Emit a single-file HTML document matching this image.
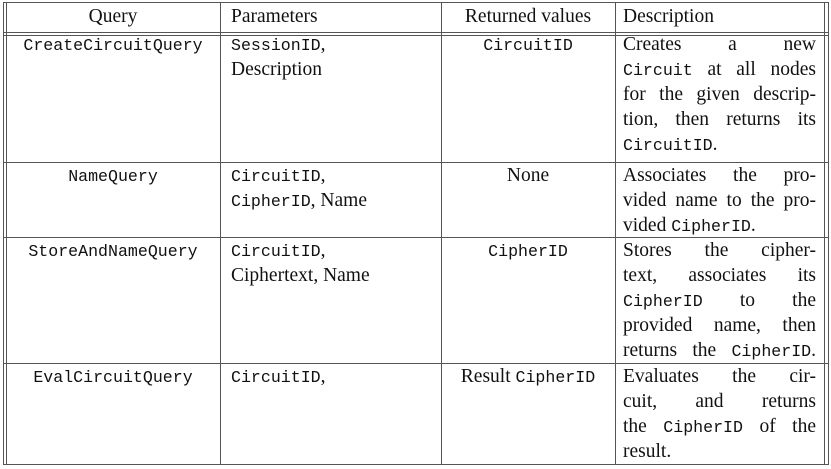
<!DOCTYPE html>
<html><head><meta charset="utf-8"><style>
body{margin:0;width:831px;height:469px;background:#fff;position:relative;overflow:hidden;font-family:"Liberation Serif",serif;font-size:19.5px;color:#111}
.h,.v{position:absolute;background:#555}
.h{height:1px}.v{width:1px}
.t{position:absolute;height:25px;line-height:25px;white-space:nowrap}
.c{text-align:center}
.j{text-align:justify;text-align-last:justify;white-space:normal}
tt{font-family:"Liberation Mono",monospace;font-size:16.6px}
</style></head><body>
<div class="v" style="left:3px;top:2px;height:462px"></div>
<div class="v" style="left:6px;top:2px;height:462px"></div>
<div class="v" style="left:220px;top:2px;height:462px"></div>
<div class="v" style="left:441px;top:2px;height:462px"></div>
<div class="v" style="left:615px;top:2px;height:462px"></div>
<div class="v" style="left:824px;top:2px;height:462px"></div>
<div class="v" style="left:828px;top:2px;height:462px"></div>
<div class="h" style="left:3px;top:2px;width:826px"></div>
<div class="h" style="left:3px;top:32px;width:826px"></div>
<div class="h" style="left:3px;top:35px;width:826px"></div>
<div class="h" style="left:3px;top:162px;width:826px"></div>
<div class="h" style="left:3px;top:237px;width:826px"></div>
<div class="h" style="left:3px;top:363px;width:826px"></div>
<div class="h" style="left:3px;top:464px;width:826px"></div>

<div class="t c" style="left:6px;width:214px;top:4px">Query</div>
<div class="t" style="left:231px;top:4px">Parameters</div>
<div class="t c" style="left:441px;width:174px;top:4px">Returned values</div>
<div class="t" style="left:623px;top:4px">Description</div>

<div class="t c" style="left:6px;width:214px;top:32px"><tt>CreateCircuitQuery</tt></div>
<div class="t" style="left:231px;top:32px"><tt>SessionID</tt>,</div>
<div class="t" style="left:231px;top:57px">Description</div>
<div class="t c" style="left:441px;width:174px;top:32px"><tt>CircuitID</tt></div>
<div class="t j" style="left:623px;width:193px;top:32px">Creates a new</div>
<div class="t j" style="left:623px;width:193px;top:57px"><tt>Circuit</tt> at all nodes</div>
<div class="t j" style="left:623px;width:193px;top:82px">for the given descrip-</div>
<div class="t j" style="left:623px;width:193px;top:107px">tion, then returns its</div>
<div class="t" style="left:623px;top:132px"><tt>CircuitID</tt>.</div>

<div class="t c" style="left:6px;width:214px;top:163px"><tt>NameQuery</tt></div>
<div class="t" style="left:231px;top:163px"><tt>CircuitID</tt>,</div>
<div class="t" style="left:231px;top:188px"><tt>CipherID</tt>, Name</div>
<div class="t c" style="left:441px;width:174px;top:163px">None</div>
<div class="t j" style="left:623px;width:193px;top:163px">Associates the pro-</div>
<div class="t j" style="left:623px;width:193px;top:188px">vided name to the pro-</div>
<div class="t" style="left:623px;top:213px">vided <tt>CipherID</tt>.</div>

<div class="t c" style="left:6px;width:214px;top:238px"><tt>StoreAndNameQuery</tt></div>
<div class="t" style="left:231px;top:238px"><tt>CircuitID</tt>,</div>
<div class="t" style="left:231px;top:263px">Ciphertext, Name</div>
<div class="t c" style="left:441px;width:174px;top:238px"><tt>CipherID</tt></div>
<div class="t j" style="left:623px;width:193px;top:238px">Stores the cipher-</div>
<div class="t j" style="left:623px;width:193px;top:263px">text, associates its</div>
<div class="t j" style="left:623px;width:193px;top:288px"><tt>CipherID</tt> to the</div>
<div class="t j" style="left:623px;width:193px;top:313px">provided name, then</div>
<div class="t j" style="left:623px;width:193px;top:338px">returns the <tt>CipherID</tt>.</div>

<div class="t c" style="left:6px;width:214px;top:364px"><tt>EvalCircuitQuery</tt></div>
<div class="t" style="left:231px;top:364px"><tt>CircuitID</tt>,</div>
<div class="t c" style="left:441px;width:174px;top:364px">Result <tt>CipherID</tt></div>
<div class="t j" style="left:623px;width:193px;top:364px">Evaluates the cir-</div>
<div class="t j" style="left:623px;width:193px;top:389px">cuit, and returns</div>
<div class="t j" style="left:623px;width:193px;top:414px">the <tt>CipherID</tt> of the</div>
<div class="t" style="left:623px;top:439px">result.</div>
</body></html>
